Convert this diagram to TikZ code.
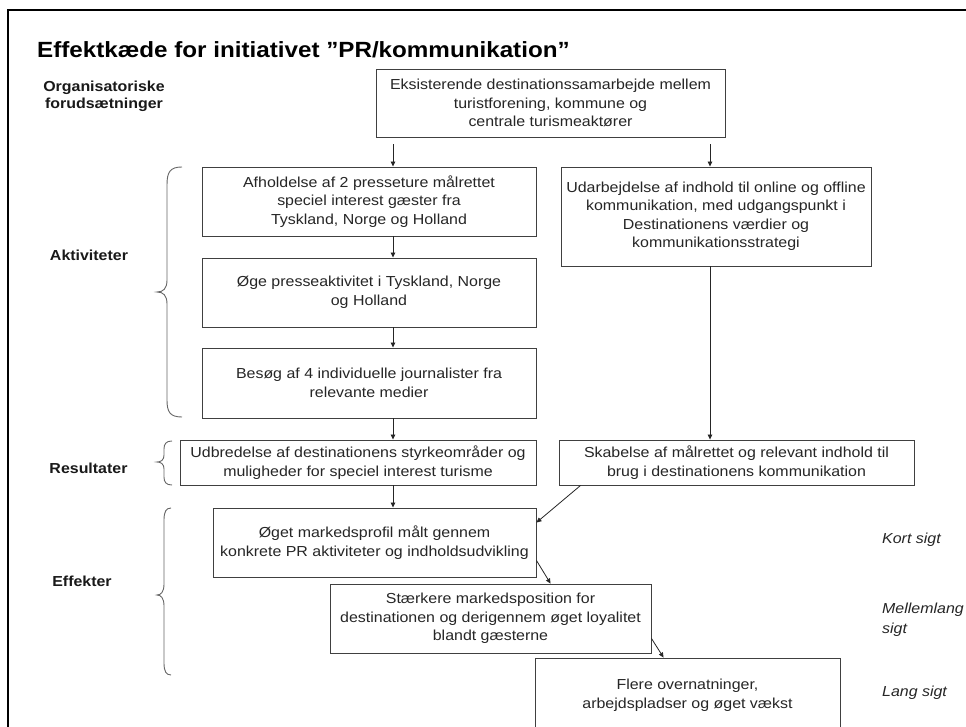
\documentclass[tikz,border=0pt]{standalone}
\usepackage{fontspec}
\setmainfont{Liberation Sans}[FakeStretch=1.1]
\usetikzlibrary{arrows.meta,calc}

\begin{document}
\begin{tikzpicture}[x=1pt,y=-1pt,
  box/.style={draw=black!75, line width=0.9pt, inner sep=0pt, align=center,
    text=black!85, font=\fontsize{14.5}{18.5}\selectfont},
  lbl/.style={font=\bfseries\fontsize{14.5}{17}\selectfont, align=center,
    inner sep=0pt, text=black!90},
  term/.style={font=\itshape\fontsize{14.5}{20}\selectfont, align=left,
    anchor=west, inner sep=0pt, text=black!85},
  arr/.style={draw=black!85, line width=0.8pt,
    -{Triangle[length=5pt,width=4.5pt]}},
  brace/.style={draw=black!60, line width=0.9pt},
]
\useasboundingbox (0,0) rectangle (966,727);
\clip (0,0) rectangle (966,727);
\fill[white] (0,0) rectangle (966,727);

% page frame
\draw[line width=2pt] (8,730) -- (8,10) -- (970,10);

% title
\node[anchor=base west, inner sep=0pt, font=\bfseries\fontsize{22}{26}\selectfont]
  (title) at (37,58) {Effektkæde for initiativet ”PR/kommunikation”};

% stage labels
\node[lbl] (lorg) at (104,96) {Organisatoriske\\forudsætninger};
\node[lbl] (lakt) at (89,255) {Aktiviteter};
\node[lbl] (lres) at (88.5,468) {Resultater};
\node[lbl] (leff) at (82,581) {Effekter};

% time horizon labels
\node[term] (tkort) at (882,540) {Kort sigt};
\node[term] (tmel) at (882,620) {Mellemlang\\sigt};
\node[term] (tlang) at (882,693) {Lang sigt};

% boxes
\node[box, minimum width=349pt, minimum height=68pt] (top) at (550.5,103)
  {Eksisterende destinationssamarbejde mellem\\turistforening, kommune og\\centrale turismeaktører};
\node[box, minimum width=334pt, minimum height=69pt] (a1) at (369,201.5)
  {Afholdelse af 2 presseture målrettet\\speciel interest gæster fra\\Tyskland,  Norge og Holland};
\node[box, minimum width=310pt, minimum height=99pt] (r1) at (716,216.5)
  {Udarbejdelse af indhold til online og offline\\kommunikation, med udgangspunkt i\\Destinationens værdier og\\kommunikationsstrategi};
\node[box, minimum width=334pt, minimum height=69pt] (a2) at (369,292.5)
  {Øge presseaktivitet i Tyskland,  Norge\\og Holland};
\node[box, minimum width=334pt, minimum height=70pt] (a3) at (369,383)
  {Besøg af 4 individuelle journalister fra\\relevante medier};
\node[box, minimum width=356pt, minimum height=45pt] (res1) at (358,462.5)
  {Udbredelse af destinationens styrkeområder og\\muligheder for speciel interest turisme};
\node[box, minimum width=355pt, minimum height=45pt] (res2) at (736.5,462.5)
  {Skabelse af målrettet og relevant indhold til\\brug i destinationens kommunikation};
\node[box, minimum width=323pt, minimum height=69pt] (e1) at (374.5,542.5)
  {Øget markedsprofil målt gennem\\konkrete PR aktiviteter og indholdsudvikling};
\node[box, minimum width=321pt, minimum height=69pt] (e2) at (490.5,618.5)
  {Stærkere markedsposition for\\destinationen og derigennem øget loyalitet\\blandt gæsterne};
\node[box, minimum width=305pt, minimum height=74pt] (e3) at (687.5,695)
  {Flere overnatninger,\\arbejdspladser og øget vækst};

% connectors
\coordinate (cl) at (393,0);
\coordinate (cr) at (710,0);
\draw[arr, shorten <=7pt] (top.south -| cl) -- (a1.north -| cl);
\draw[arr, shorten <=7pt] (top.south -| cr) -- (r1.north -| cr);
\draw[arr] (a1.south -| cl) -- (a2.north -| cl);
\draw[arr] (a2.south -| cl) -- (a3.north -| cl);
\draw[arr] (a3.south -| cl) -- (res1.north -| cl);
\draw[arr] (res1.south -| cl) -- (e1.north -| cl);
\draw[arr] (r1.south -| cr) -- (res2.north -| cr);
\draw[arr] ($(res2.south west)+(22,0)$) -- ($(e1.north east)+(0,15)$);
\draw[arr] ($(e1.south east)+(0,-17)$) -- ($(e2.north west)+(221,0)$);
\draw[arr] ($(e2.south east)+(0,-15)$) -- ($(e3.north west)+(129,0)$);

% braces grouping the stages
\draw[brace] (182,167) .. controls (170,167) and (167,172) .. (167,185)
  -- (167,280) .. controls (167,289) and (163,292) .. (157,292)
  .. controls (163,292) and (167,295) .. (167,304)
  -- (167,400) .. controls (167,412) and (170,417) .. (182,417);
\draw[brace] (172,441) .. controls (166,441) and (164,444) .. (164,449)
  -- (164,455) .. controls (164,460) and (161,462) .. (157,462)
  .. controls (161,462) and (164,464) .. (164,469)
  -- (164,477) .. controls (164,482) and (166,485) .. (172,485);
\draw[brace] (171,508) .. controls (166,508) and (164,512) .. (164,520)
  -- (164,584) .. controls (164,592) and (161,595) .. (157,595)
  .. controls (161,595) and (164,598) .. (164,606)
  -- (164,663) .. controls (164,671) and (166,675) .. (171,675);
\end{tikzpicture}
\end{document}
